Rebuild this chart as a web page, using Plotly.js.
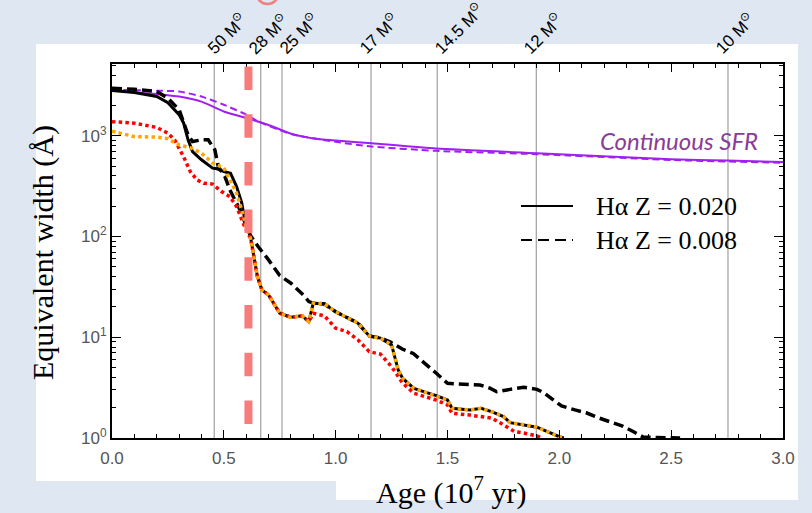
<!DOCTYPE html>
<html>
<head>
<meta charset="utf-8">
<script src="https://cdn.plot.ly/plotly-3.0.1.min.js"></script>
<style>
  html, body { margin: 0; padding: 0; background: #dfe7f2; }
  #chart { width: 812px; height: 513px; }
</style>
</head>
<body>
<div id="chart"></div>
<script>
// Age axis in units of 10^7 yr, equivalent width in Angstrom.

// Continuous star formation, Z = 0.020 (solid) and Z = 0.008 (dashed)
const sfrSolidAge = [0, 0.1, 0.2, 0.3, 0.4, 0.5, 0.6, 0.7, 0.8, 0.9, 1.0, 1.16, 1.45, 1.9, 2.5, 2.75, 3.0];
const sfrSolidEW  = [2810, 2700, 2590, 2450, 2180, 1740, 1500, 1280, 1050, 940, 896, 843, 746, 671, 585, 567, 550];
const sfrDashAge  = [0, 0.1, 0.2, 0.3, 0.4, 0.5, 0.6, 0.65, 0.8, 1.0, 1.16, 1.45, 1.9, 2.5, 3.0];
const sfrDashEW   = [2850, 2830, 2800, 2750, 2450, 2030, 1620, 1400, 1040, 870, 781, 708, 656, 575, 538];

// Instantaneous burst, H-alpha, Z = 0.020
const haSolidAge = [0, 0.1, 0.2, 0.25, 0.3, 0.32, 0.34, 0.36, 0.4, 0.45, 0.47, 0.5, 0.53, 0.557, 0.58, 0.595, 0.617,
  0.65, 0.67, 0.7, 0.75, 0.8, 0.85, 0.88, 0.9, 0.95, 1.0, 1.05, 1.1, 1.15, 1.2, 1.25, 1.28, 1.3, 1.35, 1.4, 1.45,
  1.5, 1.52, 1.6, 1.65, 1.7, 1.75, 1.78, 1.85, 1.9, 2.0, 2.02];
const haSolidEW = [2810, 2690, 2450, 2130, 1620, 1340, 910, 697, 577, 477, 470, 441, 425, 313, 216, 141, 105,
  40, 29.5, 26.3, 17.3, 15.8, 16.3, 14.3, 21.8, 21.4, 17.9, 15.8, 13.8, 10.3, 9.8, 8.4, 4.7, 3.9, 3.1, 2.85, 2.63,
  2.38, 1.97, 1.90, 1.97, 1.82, 1.63, 1.42, 1.35, 1.28, 1.03, 1.0];

// Instantaneous burst, H-alpha, Z = 0.008
const haDashAge = [0, 0.1, 0.2, 0.25, 0.3, 0.32, 0.34, 0.36, 0.4, 0.43, 0.46, 0.475, 0.505, 0.527, 0.55, 0.572, 0.595,
  0.617, 0.654, 0.7, 0.75, 0.8, 0.855, 0.88, 0.9, 0.95, 1.0, 1.05, 1.1, 1.15, 1.2, 1.243, 1.3, 1.347, 1.392, 1.45,
  1.5, 1.556, 1.645, 1.69, 1.72, 1.78, 1.84, 1.9, 1.93, 1.97, 2.01, 2.07, 2.12, 2.17, 2.23, 2.28, 2.33, 2.375, 2.54];
const haDashEW = [2960, 2890, 2750, 2360, 1810, 1380, 1020, 875, 910, 910, 724, 494, 393, 290, 231, 184, 137,
  104, 79, 58.6, 41, 34.4, 26.3, 22.6, 21.8, 21.4, 17.9, 15.8, 13.8, 10.3, 9.8, 9.0, 7.6, 6.9, 5.7, 4.39,
  3.49, 3.44, 3.36, 3.12, 2.88, 3.04, 3.19, 3.04, 2.82, 2.42, 2.08, 1.90, 1.78, 1.60, 1.45, 1.32, 1.16, 1.02, 1.0];

// Red dotted model
const redAge = [0, 0.1, 0.2, 0.25, 0.28, 0.3, 0.32, 0.35, 0.38, 0.41, 0.45, 0.49, 0.527, 0.557, 0.59, 0.62,
  0.65, 0.67, 0.7, 0.75, 0.8, 0.85, 0.88, 0.9, 0.95, 1.0, 1.05, 1.1, 1.15, 1.2, 1.25, 1.3, 1.35, 1.4, 1.45,
  1.5, 1.52, 1.6, 1.7, 1.75, 1.8, 1.85, 1.9, 1.92];
const redEW = [1380, 1333, 1210, 1060, 910, 753, 620, 441, 364, 338, 331, 279, 249, 198, 130, 95,
  40, 29.5, 26.3, 17.3, 15.8, 16.3, 14.3, 17.3, 16.3, 12.3, 11.4, 9.4, 7.2, 6.8, 5.1, 3.5, 2.78, 2.57, 2.38,
  2.13, 1.76, 1.69, 1.57, 1.35, 1.16, 1.11, 1.05, 1.0];

// Orange dotted model
const orangeAge = [0, 0.1, 0.2, 0.25, 0.3, 0.35, 0.4, 0.45, 0.5, 0.527, 0.557, 0.58, 0.6, 0.62,
  0.65, 0.67, 0.7, 0.75, 0.8, 0.85, 0.88, 0.9, 0.95, 1.0, 1.05, 1.1, 1.15, 1.2, 1.25, 1.28, 1.3, 1.35, 1.4, 1.45,
  1.5, 1.52, 1.6, 1.65, 1.7, 1.75, 1.78, 1.85, 1.9, 2.0, 2.02];
const orangeEW = [1110, 980, 970, 935, 810, 760, 671, 535, 480, 370, 270, 183, 126, 95,
  40, 29.5, 26.3, 17.3, 15.8, 16.3, 14.3, 21.8, 21.4, 17.9, 15.8, 13.8, 10.3, 9.8, 8.4, 4.7, 3.9, 3.1, 2.85, 2.63,
  2.38, 1.97, 1.90, 1.97, 1.82, 1.63, 1.42, 1.35, 1.28, 1.03, 1.0];

// Stellar lifetimes of massive stars
const massAges   = [0.457, 0.665, 0.76, 1.158, 1.454, 1.897, 2.754];
const massLabels = ['50', '28', '25', '17', '14.5', '12', '10'];
// horizontal nudge (px) of each rotated label relative to its line
const labelNudge = [-15, -20, -11, -20, -11, -21, -21];

// Age marker
const markerAge = 0.61;

const xTickVals = [0, 0.5, 1.0, 1.5, 2.0, 2.5, 3.0];
const yTickVals = [1, 10, 100, 1000];
const yTickText = ['10<sup>0</sup>', '10<sup>1</sup>', '10<sup>2</sup>', '10<sup>3</sup>'];
const legendText = ['H\u03b1 Z = 0.020', 'H\u03b1 Z = 0.008'];

const yMinor = [];
[1, 10, 100, 1000].forEach(d => { for (let k = 2; k <= 9; k++) if (k * d < 5200) yMinor.push(k * d); });
const xMinor = [];
for (let i = 0; i <= 30; i++) if (i % 5 !== 0) xMinor.push(i / 10);

const purple = '#a020f0';
const traces = [
  { x: sfrSolidAge, y: sfrSolidEW, mode: 'lines', line: { color: purple, width: 2, shape: 'spline', smoothing: 0.6 } },
  { x: sfrDashAge, y: sfrDashEW, mode: 'lines', line: { color: purple, width: 2, dash: '7px,4px', shape: 'spline', smoothing: 0.6 } },
  { x: haDashAge, y: haDashEW, mode: 'lines', line: { color: '#000', width: 3.5, dash: '10px,5px' } },
  { x: haSolidAge, y: haSolidEW, mode: 'lines', line: { color: '#000', width: 3 } },
  { x: redAge, y: redEW, mode: 'lines', line: { color: '#ff0000', width: 3.5, dash: '3.5px,3.2px' } },
  { x: orangeAge, y: orangeEW, mode: 'lines', line: { color: '#ffa500', width: 3.5, dash: '3.5px,3.2px' } }
];

// pixel helpers for decorations placed in paper space
const L = 112, T = 64, W = 671, H = 374;
const px = v => (v - L) / W;
const py = v => (T + H - v) / H;

const shapes = [
  { type: 'rect', xref: 'paper', yref: 'paper', x0: px(36), x1: px(798), y0: py(481), y1: py(44),
    fillcolor: '#ffffff', line: { width: 0 }, layer: 'below' },
  { type: 'rect', xref: 'paper', yref: 'paper', x0: px(336), x1: px(798), y0: py(500), y1: py(480),
    fillcolor: '#ffffff', line: { width: 0 }, layer: 'below' },
  { type: 'circle', xref: 'paper', yref: 'paper', x0: px(256.5), x1: px(278.5), y0: py(4), y1: py(-18),
    line: { color: '#f08080', width: 2.5 } }
];
massAges.forEach(a => shapes.push({
  type: 'line', xref: 'x', yref: 'paper', x0: a, x1: a, y0: 0, y1: 1,
  line: { color: '#a0a0a0', width: 1.2 }, layer: 'below'
}));
shapes.push({
  type: 'line', xref: 'x', yref: 'paper', x0: markerAge, x1: markerAge, y0: py(66.5), y1: py(425),
  line: { color: '#f87c7c', width: 8, dash: '23.5px,24.2px' }, layer: 'above'
});
// legend keys
shapes.push({ type: 'line', xref: 'paper', yref: 'paper', x0: px(521), x1: px(573), y0: py(206), y1: py(206),
  line: { color: '#000', width: 2 } });
shapes.push({ type: 'line', xref: 'paper', yref: 'paper', x0: px(521), x1: px(573), y0: py(240), y1: py(240),
  line: { color: '#000', width: 2, dash: '11px,6px' } });

const annotations = [
  { xref: 'paper', yref: 'paper', x: px(43), y: py(253), yanchor: 'middle', xanchor: 'center',
    text: 'Equivalent width (\u00c5)', textangle: -90,
    showarrow: false, font: { family: 'Liberation Serif', size: 30, color: '#000' } },
  { xref: 'paper', yref: 'paper', x: px(451), y: py(491), yanchor: 'middle', xanchor: 'center',
    text: 'Age (10<sup>7</sup> yr)',
    showarrow: false, font: { family: 'Liberation Serif', size: 30, color: '#000' } },
  { xref: 'paper', yref: 'paper', x: px(760), y: py(140), xanchor: 'right', yanchor: 'middle', text: 'Continuous SFR',
    showarrow: false, font: { family: 'Lato', size: 24, color: '#8a3c98', style: 'italic' } },
  { xref: 'paper', yref: 'paper', x: px(594), y: py(206), xanchor: 'left', yanchor: 'middle', text: legendText[0],
    showarrow: false, font: { family: 'Liberation Serif', size: 26, color: '#000' } },
  { xref: 'paper', yref: 'paper', x: px(594), y: py(240), xanchor: 'left', yanchor: 'middle', text: legendText[1],
    showarrow: false, font: { family: 'Liberation Serif', size: 26, color: '#000' } }
];
massAges.forEach((a, i) => annotations.push({
  xref: 'x', yref: 'paper', x: a, y: 1, xanchor: 'left', yanchor: 'bottom', xshift: labelNudge[i], yshift: 3,
  text: massLabels[i] + ' M<sup>\u2299</sup>', textangle: -45, showarrow: false,
  font: { family: 'Liberation Sans', size: 17, color: '#000' }
}));

const axisCommon = {
  ticks: 'inside', tickcolor: '#000', tickwidth: 1.2, showline: true, linecolor: '#000', linewidth: 2,
  mirror: 'allticks', showgrid: false, zeroline: false,
  tickfont: { family: 'Liberation Sans', size: 17, color: '#555' }
};

const layout = {
  width: 812, height: 513,
  margin: { l: L, r: 812 - L - W, t: T, b: 513 - T - H, pad: 0 },
  paper_bgcolor: '#dfe7f2', plot_bgcolor: 'rgba(0,0,0,0)',
  showlegend: false,
  xaxis: Object.assign({}, axisCommon, {
    range: [0, 3], tickmode: 'array', tickvals: xTickVals, tickformat: '.1f', ticklen: 8, ticklabelstandoff: 4,
    minor: { tickmode: 'array', tickvals: xMinor, ticks: 'inside', ticklen: 4, tickcolor: '#000', tickwidth: 1, showgrid: false }
  }),
  yaxis: Object.assign({}, axisCommon, {
    type: 'log', range: [0, 3.712], tickmode: 'array', tickvals: yTickVals, ticktext: yTickText, ticklen: 9,
    minor: { tickmode: 'array', tickvals: yMinor, ticks: 'inside', ticklen: 4, tickcolor: '#000', tickwidth: 1, showgrid: false }
  }),
  shapes: shapes,
  annotations: annotations
};

Plotly.newPlot('chart', traces, layout, { displayModeBar: false, staticPlot: true });
</script>
</body>
</html>
